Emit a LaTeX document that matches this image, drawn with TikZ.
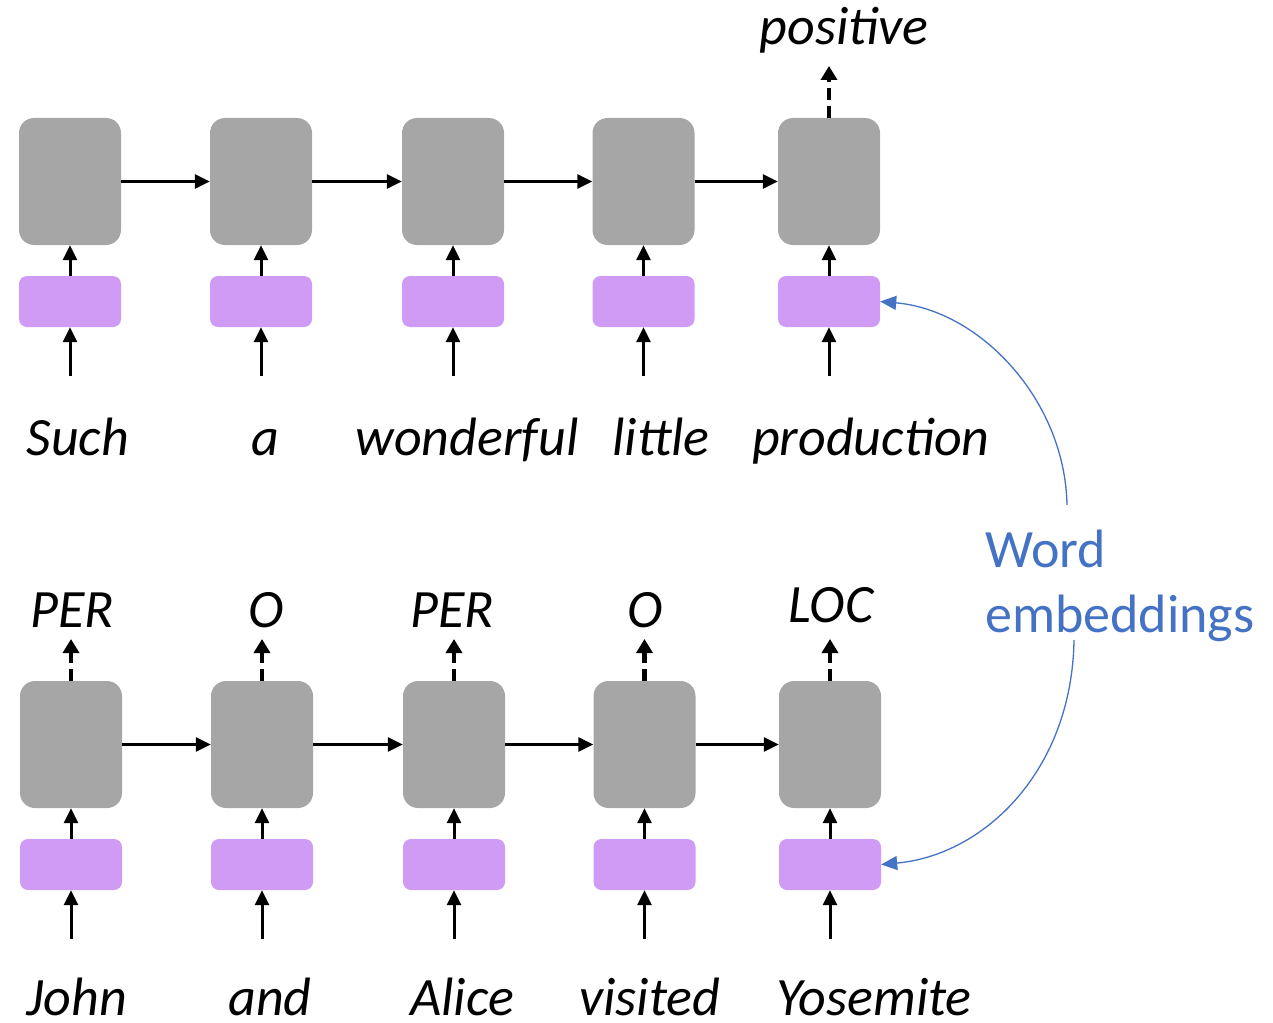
\documentclass[tikz,border=0pt]{standalone}
\usepackage{fontspec}
\setmainfont{Carlito}
\usetikzlibrary{arrows.meta,calc}
\definecolor{cellgray}{RGB}{166,166,166}
\definecolor{embpurple}{RGB}{207,155,245}
\definecolor{noteblue}{RGB}{68,114,196}
\tikzset{
  cell/.style={fill=cellgray,draw=none,rounded corners=15pt,minimum width=102pt,minimum height=127pt,inner sep=0pt},
  emb/.style={fill=embpurple,draw=none,rounded corners=8pt,minimum width=102pt,minimum height=51pt,inner sep=0pt},
  flow/.style={line width=3pt,-{Triangle[length=15pt,width=14pt]}},
  outflow/.style={line width=4.5pt,dash pattern=on 12pt off 6pt,-{Triangle[length=14pt,width=16pt]}},
  word/.style={font=\fontsize{54}{58}\selectfont\itshape,anchor=base,inner sep=0pt},
  lowword/.style={word,text depth=0pt},
  note/.style={font=\fontsize{54}{58}\selectfont,text=noteblue,anchor=base west,inner sep=0pt},
  link/.style={noteblue,line width=1.3pt,-{Triangle[length=16pt,width=14pt]}}
}
\begin{document}
\begin{tikzpicture}[x=1pt,y=-1pt]
\useasboundingbox (0,0) rectangle (1273,1022);
% top row
\foreach \i/\x in {1/70,2/261,3/453,4/643.5,5/829}{
  \node[cell] (g\i) at (\x,181.5) {};
  \node[emb] (e\i) at (\x,301.5) {};
  \coordinate (s\i) at (\x,376);
  \draw[flow] (e\i.north) -- (g\i.south);
  \draw[flow] (s\i) -- (e\i.south);
}
\foreach \a/\b in {1/2,2/3,3/4,4/5}{\draw[flow] (g\a.east) -- (g\b.west);}
\node[word] (w1) at (78,455) {Such};
\node[word] (w2) at (265,455) {a};
\node[word] (w3) at (467,455) {wonderful};
\node[word] (w4) at (661,455) {little};
\node[word] (w5) at (871,455) {production};
\node[word] (pos) at (844,45) {positive};
\coordinate (pt) at (829,66);
\draw[outflow] (g5.north) -- (pt);
% bottom row
\foreach \i/\x in {1/71,2/262,3/454,4/644.5,5/830}{
  \node[cell] (h\i) at (\x,744.5) {};
  \node[emb] (f\i) at (\x,864.5) {};
  \coordinate (t\i) at (\x,939);
  \coordinate (u\i) at (\x,639);
  \draw[flow] (f\i.north) -- (h\i.south);
  \draw[flow] (t\i) -- (f\i.south);
  \draw[outflow] (h\i.north) -- (u\i);
}
\foreach \a/\b in {1/2,2/3,3/4,4/5}{\draw[flow] (h\a.east) -- (h\b.west);}
\node[lowword] (v1) at (77,1015) {John};
\node[lowword] (v2) at (270,1015) {and};
\node[lowword] (v3) at (462,1015) {Alice};
\node[lowword] (v4) at (650,1015) {visited};
\node[lowword] (v5) at (874,1015) {Yosemite};
\node[word] (l1) at (72,627) {PER};
\node[word] (l2) at (266,627) {O};
\node[word] (l3) at (452,627) {PER};
\node[word] (l4) at (645,627) {O};
\node[word] (l5) at (831,622) {LOC};
% word embeddings note
\node[note] (n1) at (985,567) {Word};
\node[note] (n2) at (985,632) {embeddings};
\coordinate (ca) at (1067,505);
\coordinate (cb) at (1074,640);
\draw[link] (ca) .. controls (1065,400) and (980,310) .. (e5.east);
\draw[link] (cb) .. controls (1072,770) and (985,855) .. (f5.east);
\end{tikzpicture}
\end{document}
